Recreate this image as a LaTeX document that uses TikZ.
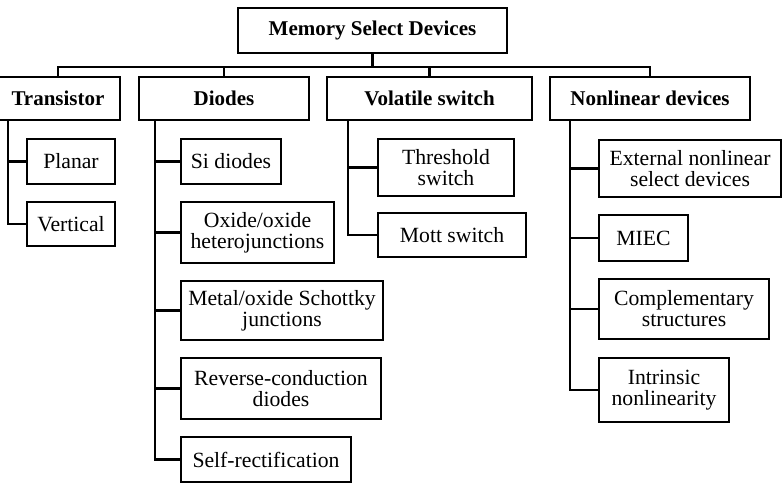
\documentclass[tikz,border=0pt]{standalone}
\usepackage{fontspec}
\setmainfont{Liberation Serif}
\begin{document}
\begin{tikzpicture}[x=1pt,y=-1pt,
  box/.style={draw=black,line width=2.2pt,rectangle,inner sep=0pt,align=center,
    font=\fontsize{21.7}{21}\selectfont},
  head/.style={box,font=\fontsize{21}{21}\selectfont\bfseries},
  conn/.style={draw=black,line width=2.2pt,line join=miter}]
\useasboundingbox (0,0) rectangle (784,488);
% top
\node[head,minimum width=269pt,minimum height=45pt] (top) at (372.5,30.5) {Memory Select Devices};
% level 1
\node[head,minimum width=124pt,minimum height=43pt] (trans) at (58,98.5) {Transistor};
\node[head,minimum width=170pt,minimum height=43pt] (diodes) at (224,98.5) {Diodes};
\node[head,minimum width=205pt,minimum height=43pt] (vol) at (429.5,98.5) {Volatile switch};
\node[head,minimum width=200pt,minimum height=43pt] (nonlin) at (650,98.5) {Nonlinear devices};
% transistor children
\node[box,minimum width=88pt,minimum height=45pt] (planar) at (71,161.5) {Planar};
\node[box,minimum width=88pt,minimum height=44pt] (vert) at (71,224) {Vertical};
% diodes children
\node[box,minimum width=100pt,minimum height=45pt] (si) at (231,161.5) {Si diodes};
\node[box,minimum width=153pt,minimum height=61pt] (oxox) at (257.5,232.5) {Oxide/oxide\\heterojunctions};
\node[box,minimum width=202pt,minimum height=59pt] (metal) at (282,310.5) {Metal/oxide Schottky\\junctions};
\node[box,minimum width=200pt,minimum height=61pt] (rev) at (281,388.5) {Reverse-conduction\\diodes};
\node[box,minimum width=170pt,minimum height=45pt] (self) at (266,459.5) {Self-rectification};
% volatile children
\node[box,minimum width=136pt,minimum height=57pt] (thr) at (446,167.5) {Threshold\\switch};
\node[box,minimum width=148pt,minimum height=44pt] (mott) at (452,235) {Mott switch};
% nonlinear children
\node[box,minimum width=182pt,minimum height=57pt] (ext) at (690,168.5) {External nonlinear\\select devices};
\node[box,minimum width=89pt,minimum height=46pt] (miec) at (643.5,238) {MIEC};
\node[box,minimum width=170pt,minimum height=60pt] (comp) at (684,309) {Complementary\\structures};
\node[box,minimum width=130pt,minimum height=64pt] (intr) at (664,390) {Intrinsic\\nonlinearity};
% bus
\coordinate (bus) at (0,67);
\draw[conn] (top.south) -- (top.south |- bus);
\draw[conn] (trans.north) -- (trans.north |- bus) -- (nonlin.north |- bus) -- (nonlin.north);
\draw[conn] (diodes.north) -- (diodes.north |- bus);
\draw[conn] (vol.north) -- (vol.north |- bus);
% trunks
\coordinate (tx) at (8,0);
\coordinate (dx) at (155,0);
\coordinate (vx) at (348,0);
\coordinate (nx) at (570,0);
\draw[conn] (tx |- trans.south) |- (vert.west);
\draw[conn] (tx |- planar.west) -- (planar.west);
\draw[conn] (dx |- diodes.south) |- (self.west);
\draw[conn] (dx |- si.west) -- (si.west);
\draw[conn] (dx |- oxox.west) -- (oxox.west);
\draw[conn] (dx |- metal.west) -- (metal.west);
\draw[conn] (dx |- rev.west) -- (rev.west);
\draw[conn] (vx |- vol.south) |- (mott.west);
\draw[conn] (vx |- thr.west) -- (thr.west);
\draw[conn] (nx |- nonlin.south) |- (intr.west);
\draw[conn] (nx |- ext.west) -- (ext.west);
\draw[conn] (nx |- miec.west) -- (miec.west);
\draw[conn] (nx |- comp.west) -- (comp.west);
\end{tikzpicture}
\end{document}
